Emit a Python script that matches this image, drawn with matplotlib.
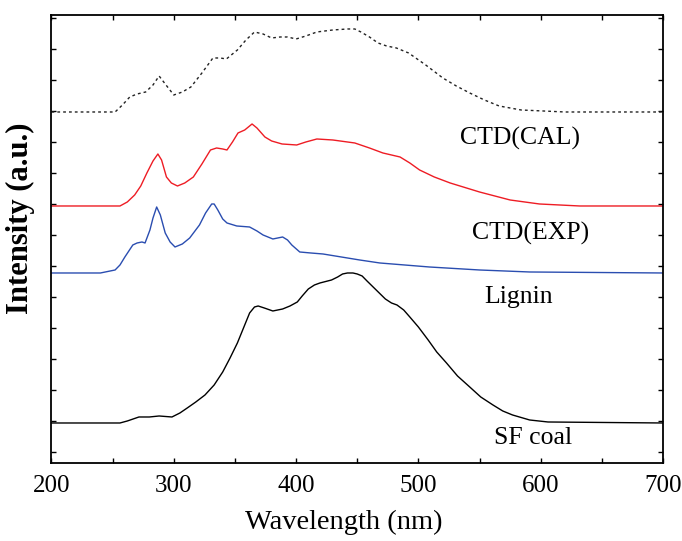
import matplotlib
matplotlib.use("Agg")
import matplotlib.pyplot as plt
from matplotlib.ticker import MultipleLocator, FixedLocator

plt.rcParams['font.family'] = ['Liberation Serif', 'DejaVu Serif']

# ---- data (relative intensity above each curve's baseline, arbitrary units) ----
sf_wl = [200, 256, 262, 271.5, 280, 288, 298.5, 305, 311, 318, 325.5, 333, 340, 346, 352, 357,
         362, 366, 369, 374, 381, 389, 395, 401, 405, 410, 415, 419.5, 429, 434, 438, 442,
         446.5, 450, 454, 458, 463, 468, 473, 478, 482.5, 488, 493, 500, 508, 515, 523, 532,
         542, 551, 561, 569, 577, 591, 606, 700]
sf_int = [0, 0, 2, 6, 6, 7, 6, 10, 15, 21, 28, 38, 51, 65, 80, 95,
          110, 116, 117, 115, 112, 114, 117, 121, 127, 134, 138, 140, 143, 146, 149, 150,
          150, 149, 147, 142, 136, 130, 124, 120, 118, 113, 106, 96, 83, 71, 60, 47,
          36, 26, 18, 12, 8, 3, 1, 0]

lig_wl = [200, 240, 252, 256, 260, 266.5, 270, 274, 276.5, 280.5, 283, 286, 289, 293, 297, 301,
          307, 313, 321, 326, 331, 333, 336, 340, 343.5, 351.5, 362, 368, 373, 381, 385, 389,
          393, 396.5, 403, 412, 422, 437, 452, 468.5, 509, 550, 591, 700]
lig_int = [0, 0, 3, 8, 16, 28, 30, 31, 30, 43, 55, 66, 58, 40, 31, 26,
           29, 35, 48, 60, 69, 69, 63, 54, 50, 47, 46, 42, 38, 34, 35, 36,
           33, 28, 21, 20, 19, 16, 13, 10, 6, 3, 1, 0]

exp_wl = [200, 240, 256, 262, 268, 273, 278, 283, 287, 290, 294, 298, 303, 309, 316, 323, 330,
          335, 340, 343.5, 348, 352.5, 358, 364, 368, 374.5, 380, 388.5, 400.5, 408, 417, 430,
          448, 460, 471, 485, 493, 501, 513, 526, 550, 575, 599, 632, 700]
exp_int = [0, 0, 0, 4, 11, 20, 33, 45, 52, 46, 29, 23, 20, 23, 29, 42, 56,
           58, 57, 56, 64, 73, 76, 82, 78, 69, 65, 62, 61, 64, 67, 66,
           63, 58, 53, 49, 43, 36, 29, 23, 14, 6, 2, 0, 0]

cal_wl = [200, 252, 258, 264, 270, 277, 283, 288, 293, 300, 307, 314, 323, 332, 338, 343, 352,
          359, 366, 373, 380, 387, 393, 400, 408, 417, 430, 442, 448, 453, 460, 467, 474, 482,
          492, 506, 520, 531, 542, 554, 566, 584, 620, 700]
cal_int = [0, 0, 7, 15, 18, 20, 27, 36, 28, 17, 20, 25, 39, 54, 54, 53, 62,
           72, 80, 78, 74, 75, 75, 73, 76, 80, 82, 83, 83, 80, 75, 69, 66, 64,
           59, 47, 34, 26, 19, 12, 6, 2, 0, 0]

offsets = [40, 190, 257, 351]          # vertical stacking offsets
labels = ["SF coal", "Lignin", "CTD(EXP)", "CTD(CAL)"]

fig = plt.figure(figsize=(6.82, 5.41), dpi=100)
ax = fig.add_axes([0.0755, 0.1442, 0.8966, 0.8281])

ax.plot(sf_wl, [v + offsets[0] for v in sf_int], color='black', lw=1.0)
ax.plot(lig_wl, [v + offsets[1] for v in lig_int], color='#2a4db0', lw=1.0)
ax.plot(exp_wl, [v + offsets[2] for v in exp_int], color='#ee1c24', lw=1.0)
ax.plot(cal_wl, [v + offsets[3] for v in cal_int], color='#222222', lw=1.0,
        linestyle=(0, (2, 2.2)))

ax.set_xlim(200, 700)
ax.set_ylim(0, 448)
ax.xaxis.set_major_locator(MultipleLocator(100))
ax.xaxis.set_minor_locator(MultipleLocator(50))
ax.yaxis.set_major_locator(FixedLocator([11 + 31 * k for k in range(15)]))
ax.set_yticklabels([])
ax.tick_params(axis='both', which='both', direction='in', top=True, right=True,
               width=1.0, length=3.5)
ax.tick_params(axis='x', which='major', labelsize=18, pad=9)
for s in ax.spines.values():
    s.set_linewidth(1.3)

ax.set_xlabel("Wavelength (nm)", fontsize=20.5)
ax.xaxis.set_label_coords(0.478, -0.105)
ax.set_ylabel("Intensity (a.u.)", fontsize=22, fontweight='bold', va='center')
ax.yaxis.set_label_coords(-0.05, 0.547)

label_pos = [(594, 25), (582, 166), (592, 230), (583, 325)]
for (x, y), t in zip(label_pos, labels):
    ax.text(x, y, t, fontsize=18.5, ha='center', va='center')

fig.savefig("out.png", dpi=100)
